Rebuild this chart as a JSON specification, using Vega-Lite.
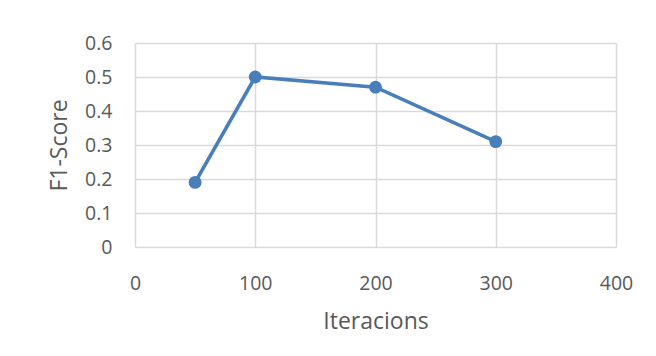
{
  "$schema": "https://vega.github.io/schema/vega-lite/v6.json",
  "autosize": {"type": "none"},
  "width": 481,
  "height": 204,
  "padding": {"left": 135, "top": 43, "right": 40, "bottom": 109},
  "background": "white",
  "config": {
    "view": {"stroke": null},
    "font": "Open Sans",
    "axis": {
      "labelColor": "#595959",
      "titleColor": "#595959",
      "labelFont": "Open Sans",
      "titleFont": "Open Sans",
      "labelFontSize": 19.5,
      "titleFontSize": 23,
      "titleFontWeight": "normal",
      "gridColor": "#d9d9d9",
      "gridWidth": 1.5,
      "domain": false,
      "ticks": false
    }
  },
  "data": {
    "values": [
      {"Iteracions": 50, "F1": 0.19},
      {"Iteracions": 100, "F1": 0.5},
      {"Iteracions": 200, "F1": 0.47},
      {"Iteracions": 300, "F1": 0.31}
    ]
  },
  "mark": {
    "type": "line",
    "color": "#4a7ebb",
    "strokeWidth": 3.6,
    "point": {"filled": true, "size": 165, "color": "#4a7ebb", "opacity": 1}
  },
  "encoding": {
    "x": {
      "field": "Iteracions",
      "type": "quantitative",
      "scale": {"domain": [0, 400], "nice": false},
      "axis": {"values": [0, 100, 200, 300, 400], "labelPadding": 27, "title": "Iteracions", "titlePadding": 18, "labelFlush": false}
    },
    "y": {
      "field": "F1",
      "type": "quantitative",
      "scale": {"domain": [0, 0.6], "nice": false},
      "axis": {"values": [0, 0.1, 0.2, 0.3, 0.4, 0.5, 0.6], "labelPadding": 23, "title": "F1-Score", "titlePadding": 13, "labelFlush": false, "format": "~g"}
    }
  }
}
